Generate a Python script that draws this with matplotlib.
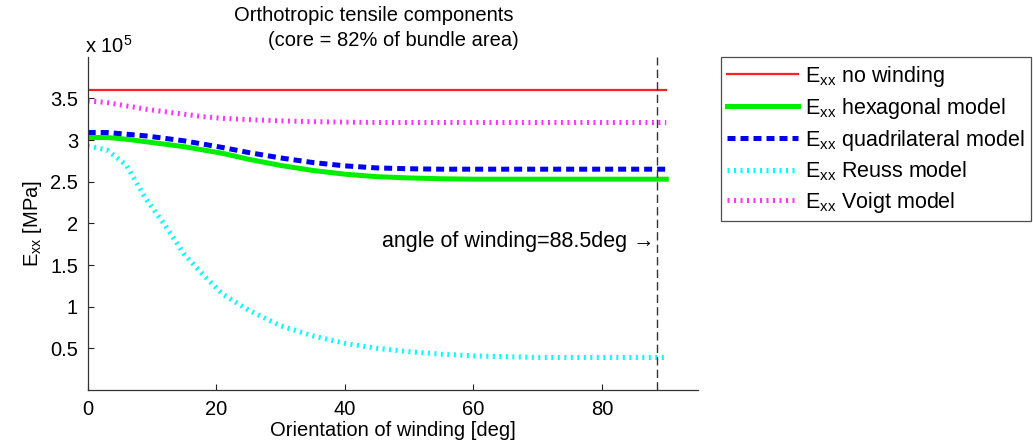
import matplotlib
matplotlib.use("Agg")
import matplotlib.pyplot as plt

plt.rcParams["font.family"] = ["Liberation Sans", "DejaVu Sans"]
plt.rcParams["mathtext.fontset"] = "custom"
plt.rcParams["mathtext.rm"] = "Liberation Sans"
plt.rcParams["font.size"] = 14.5

# 数据 (单位: 1e5 MPa)
angle = [0, 3, 6, 9, 12, 15, 18, 21, 25, 30, 35, 40, 45, 50, 55, 60, 70, 80, 90]
no_winding = [3.6] * len(angle)
hexagonal = [3.03, 3.03, 3.01, 2.98, 2.95, 2.92, 2.88, 2.84, 2.77, 2.695, 2.635, 2.59, 2.56, 2.545, 2.535, 2.53, 2.53, 2.53, 2.53]
quadrilateral = [3.09, 3.09, 3.07, 3.05, 3.02, 2.99, 2.95, 2.91, 2.85, 2.785, 2.73, 2.69, 2.665, 2.655, 2.65, 2.65, 2.65, 2.65, 2.65]
reuss = [2.93, 2.88, 2.70, 2.30, 1.98, 1.63, 1.38, 1.15, 0.96, 0.77, 0.65, 0.56, 0.50, 0.46, 0.43, 0.41, 0.39, 0.39, 0.39]
voigt = [3.47, 3.45, 3.41, 3.37, 3.34, 3.31, 3.28, 3.26, 3.245, 3.23, 3.22, 3.215, 3.21, 3.21, 3.21, 3.21, 3.21, 3.21, 3.21]
winding_angle = 88.5

fig = plt.figure(figsize=(10.33, 4.45), dpi=100)
ax = fig.add_axes([0.0849, 0.1236, 0.5912, 0.749])

lab = lambda s: r"E$_{\mathregular{xx}}$ " + s
ax.plot(angle, no_winding, color="#ff2020", lw=1.6, label=lab("no winding"))
ax.plot(angle, hexagonal, color="#00ee00", lw=3.6, label=lab("hexagonal model"))
ax.plot(angle, quadrilateral, color="#0000ee", lw=3.6, ls=(0, (1.6, 1.0)),
        dash_capstyle="butt", label=lab("quadrilateral model"))
ax.plot(angle, reuss, color="#00ffff", lw=3.6, ls=(0, (0.4, 0.9)),
        dash_capstyle="butt", label=lab("Reuss model"))
ax.plot(angle, voigt, color="#ff33ff", lw=3.6, ls=(0, (0.4, 0.9)),
        dash_capstyle="butt", label=lab("Voigt model"))

# 缠绕角竖线
ax.axvline(winding_angle, color="#333333", lw=1.0, ls=(0, (6, 3)))
ax.text(winding_angle - 0.3, 1.78, "angle of winding=88.5deg \u2192",
        ha="right", va="center", fontsize=15.5)

ax.set_xlim(0, 95)
ax.set_ylim(0, 4.0)
ax.set_xticks([0, 20, 40, 60, 80])
ax.set_yticks([0.5, 1, 1.5, 2, 2.5, 3, 3.5])
ax.set_yticklabels(["0.5", "1", "1.5", "2", "2.5", "3", "3.5"])
ax.tick_params(direction="in", length=4, width=0.8, colors="#222222", labelcolor="black", pad=7)
for s in ["top", "right"]:
    ax.spines[s].set_visible(False)
for s in ["left", "bottom"]:
    ax.spines[s].set_color("#333333")
    ax.spines[s].set_linewidth(0.9)

ax.set_xlabel("Orientation of winding [deg]", labelpad=2)
ax.set_ylabel(r"E$_{\mathregular{xx}}$ [MPa]", labelpad=4)

fig.text(0.362, 0.966, "Orthotropic tensile components", ha="center", va="center")
fig.text(0.381, 0.908, "(core = 82% of bundle area)", ha="center", va="center")
fig.text(0.082, 0.897, r"x 10$^{\mathregular{5}}$", ha="left", va="center")

leg = fig.legend(loc="upper left", bbox_to_anchor=(0.6977, 0.871), fancybox=False,
                 edgecolor="#222222", handlelength=3.3, handletextpad=0.3,
                 labelspacing=0.32, borderpad=0.3, borderaxespad=0, fontsize=15.5)
leg.get_frame().set_linewidth(0.9)

fig.savefig("out.png", dpi=100)
